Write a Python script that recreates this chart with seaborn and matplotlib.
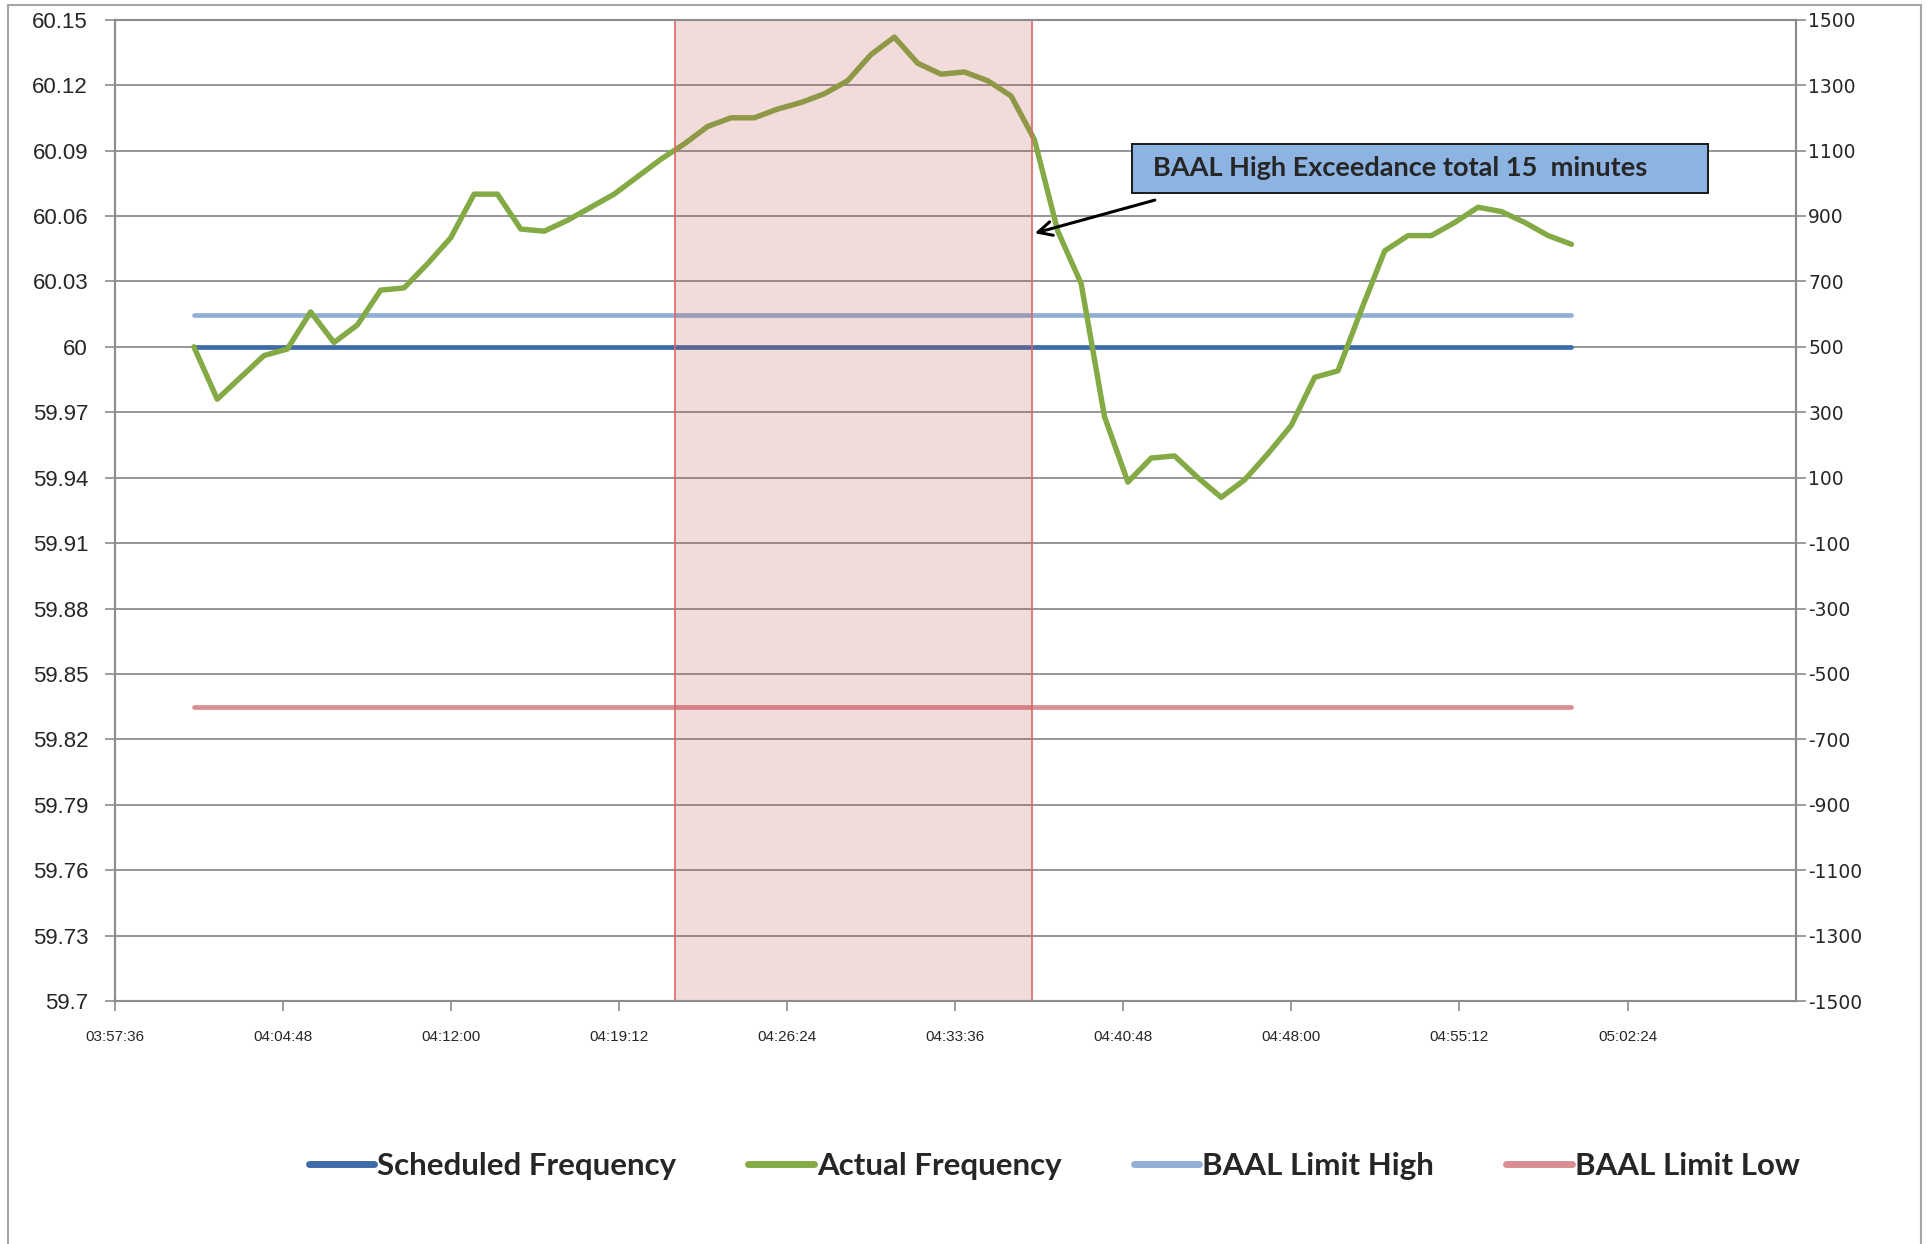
import numpy as np
import pandas as pd
import matplotlib
matplotlib.use("Agg")
import matplotlib.pyplot as plt
import matplotlib.dates as mdates
from matplotlib.lines import Line2D
from matplotlib.patches import Rectangle
import seaborn as sns

# one reading per minute, 04:01 .. 05:00
times = pd.date_range("2010-06-01 04:01:00", periods=60, freq="min")
actual = [60.000, 59.976, 59.986, 59.996, 59.999, 60.016, 60.002, 60.010, 60.026, 60.027,
          60.038, 60.050, 60.070, 60.070, 60.054, 60.053, 60.058, 60.064, 60.070, 60.078,
          60.086, 60.093, 60.101, 60.105, 60.105, 60.109, 60.112, 60.116, 60.122, 60.134,
          60.142, 60.130, 60.125, 60.126, 60.122, 60.115, 60.095, 60.053, 60.029, 59.968,
          59.938, 59.949, 59.950, 59.940, 59.931, 59.939, 59.951, 59.964, 59.986, 59.989,
          60.017, 60.044, 60.051, 60.051, 60.057, 60.064, 60.062, 60.057, 60.051, 60.047]
scheduled = [60.0] * 60
baal_high = [60.0145] * 60
baal_low = [59.835] * 60

series_names = ["Scheduled Frequency", "Actual Frequency", "BAAL Limit High", "BAAL Limit Low"]
series_colors = ["#3E6CA8", "#84AA45", "#92AED6", "#D88E92"]

exceed_start = pd.Timestamp("2010-06-01 04:21:36")
exceed_end = pd.Timestamp("2010-06-01 04:36:54")

left_ticks = np.round(np.arange(59.70, 60.1501, 0.03), 2)
right_ticks = np.arange(-1500, 1501, 200)
x_ticks = pd.date_range("2010-06-01 03:57:36", periods=10, freq="432s")

df = pd.DataFrame({
    "time": np.tile(times, 4),
    "freq": scheduled + actual + baal_high + baal_low,
    "series": np.repeat(series_names, 60),
})

sns.set_style("white")
fig = plt.figure(figsize=(19.31, 12.44), dpi=100)
ax = fig.add_axes([0.0593, 0.1952, 0.8706, 0.789])

# green drawn last so it sits on top of the flat lines
draw_order = ["Scheduled Frequency", "BAAL Limit High", "BAAL Limit Low", "Actual Frequency"]
pal = dict(zip(series_names, series_colors))
for name in draw_order:
    sub = df[df["series"] == name]
    lw = 3.9 if name == "Actual Frequency" else 3.4
    sns.lineplot(data=sub, x="time", y="freq", color=pal[name], linewidth=lw,
                 ax=ax, legend=False, solid_capstyle="round", zorder=2)

ax.axvspan(exceed_start, exceed_end, facecolor=(0.753, 0.314, 0.302, 0.2),
           edgecolor=(0.86, 0.4, 0.4, 0.9), linewidth=1.3, zorder=3)

grid_c = "#8C8C8C"
ax.set_ylim(59.7, 60.15)
ax.set_yticks(left_ticks)
ax.set_yticklabels([f"{v:g}" for v in left_ticks], family="Liberation Sans", fontsize=16)
ax.set_xlim(x_ticks[0], pd.Timestamp("2010-06-01 05:09:36"))
ax.set_xticks(x_ticks)
ax.xaxis.set_major_formatter(mdates.DateFormatter("%H:%M:%S"))
for lab in ax.get_xticklabels():
    lab.set_family("Liberation Sans")
    lab.set_fontsize(11)
ax.set_xlabel("")
ax.set_ylabel("")
ax.yaxis.grid(True, color=grid_c, linewidth=1.3, zorder=0)
ax.set_axisbelow(True)
ax.tick_params(axis="y", direction="out", length=7, width=1.2, color=grid_c, pad=12, left=True)
ax.tick_params(axis="x", direction="out", length=7, width=1.2, color=grid_c, pad=14, bottom=True)
for s in ax.spines.values():
    s.set_color(grid_c)
    s.set_linewidth(1.5)

ax2 = ax.twinx()
ax2.set_ylim(-1500, 1500)
ax2.set_yticks(right_ticks)
ax2.set_yticklabels([str(v) for v in right_ticks], family="DejaVu Sans", fontsize=13.5)
ax2.tick_params(axis="y", direction="out", length=7, width=1.2, color=grid_c, pad=2, right=True)
for s in ax2.spines.values():
    s.set_color(grid_c)
    s.set_linewidth(1.5)

# callout box
ax.add_patch(Rectangle((0.6053, 0.8234), 0.3426, 0.05, transform=ax.transAxes,
                       facecolor="#8DB3E2", edgecolor="#1A1A1A", linewidth=1.4, zorder=5))
ax.text(0.6176, 0.8484, "BAAL High Exceedance total 15  minutes", transform=ax.transAxes,
        ha="left", va="center", fontsize=19.5, fontweight="bold", family="Lato", zorder=6)
ax.annotate("", xy=(0.5458, 0.7817), xytext=(0.6204, 0.8169),
            xycoords="axes fraction", textcoords="axes fraction",
            arrowprops=dict(arrowstyle="->", color="black", lw=2.2, mutation_scale=25), zorder=6)

handles = [Line2D([0], [0], color=c, linewidth=5, solid_capstyle="round") for c in series_colors]
fig.legend(handles, series_names, loc="center", bbox_to_anchor=(0.546, 0.0627), ncol=4,
           frameon=False, handlelength=2.1, handletextpad=0.1, columnspacing=2.3,
           prop={"family": "Lato", "weight": "bold", "size": 22.5})

# chart area border
fig.add_artist(Rectangle((8 / 1931, -0.02), 1913 / 1931, 1.02 - 5 / 1244, transform=fig.transFigure,
                         fill=False, edgecolor="#A6A6A6", linewidth=1.5))

fig.savefig("out.png", dpi=100)
